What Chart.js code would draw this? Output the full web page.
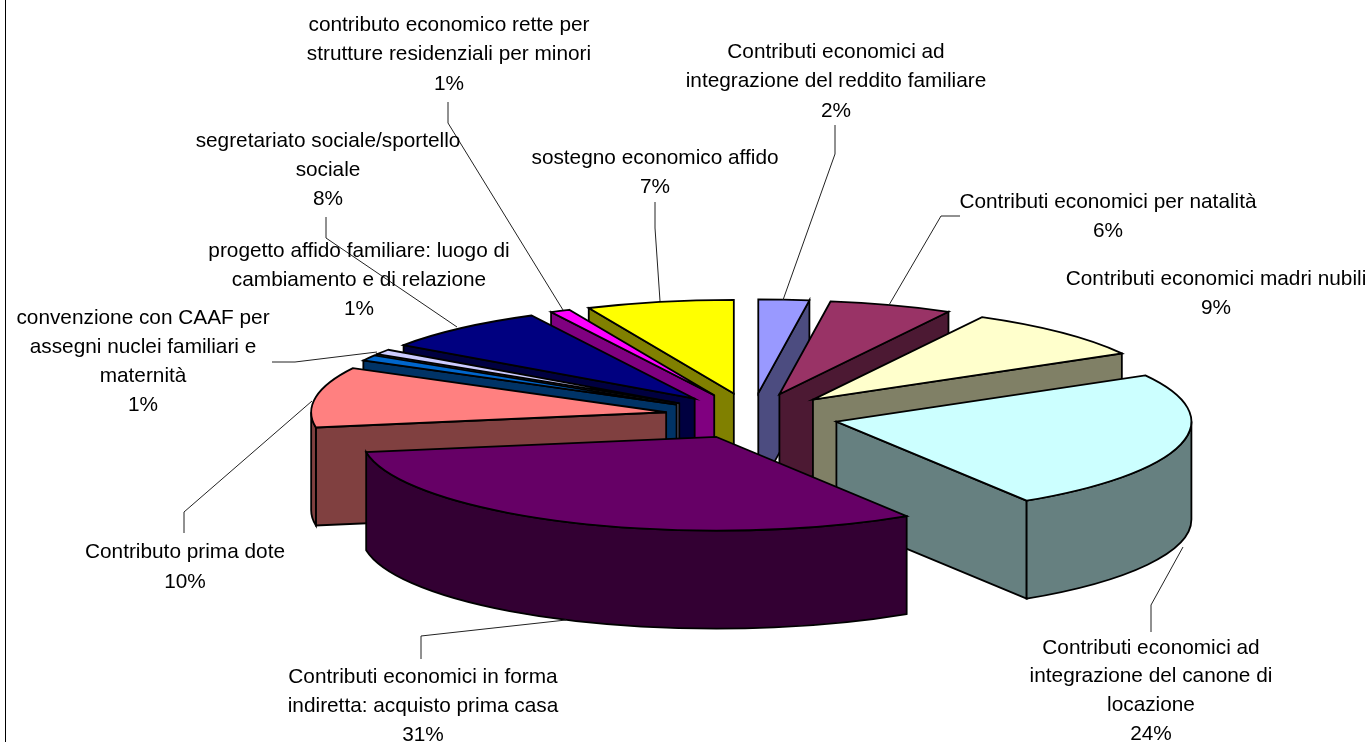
<!DOCTYPE html>
<html lang="it">
<head>
<meta charset="utf-8">
<title>Contributi economici</title>
<script src="https://cdn.jsdelivr.net/npm/chart.js@4/dist/chart.umd.js"></script>
<style>
html,body{margin:0;padding:0;background:#fff;overflow:hidden}
#wrap{position:relative;width:1367px;height:742px}
</style>
</head>
<body>
<div id="wrap"><canvas id="c"></canvas></div>
<script>
const categories = [
  ["Contributi economici ad", "integrazione del reddito familiare"],
  ["Contributi economici per natalità"],
  ["Contributi economici madri nubili"],
  ["Contributi economici ad", "integrazione del canone di", "locazione"],
  ["Contributi economici in forma", "indiretta: acquisto prima casa"],
  ["Contributo prima dote"],
  ["convenzione con CAAF per", "assegni nuclei familiari e", "maternità"],
  ["progetto affido familiare: luogo di", "cambiamento e di relazione"],
  ["segretariato sociale/sportello", "sociale"],
  ["contributo economico rette per", "strutture residenziali per minori"],
  ["sostegno economico affido"]
];
const values = [2.3, 5.6, 8.9, 24.2, 31.4, 10.4, 1.0, 0.9, 7.7, 0.9, 6.7];
const topColors = ["#9999FF","#993366","#FFFFCC","#CCFFFF","#660066","#FF8080","#0066CC","#CCCCFF","#000080","#FF00FF","#FFFF00"];
const sideColors = ["#4C4C80","#4C1933","#808066","#668080","#330033","#804040","#003366","#666680","#000040","#800080","#808000"];

// label layout: centre x, first line y, line step
const labelPos = [
  [836,52,29.5],[1108,202,29],[1216,279,29],[1151,648,28.7],[423,677,29],
  [185,552,30],[143,318,29],[359,251,29],[328,141,29],[449,25,29.5],[655,158,29]
];
const leaders = [
  [[835,125],[835,154],[783,300]],
  [[960,216],[941,216],[889,305]],
  null,
  [[1151,632],[1151,605],[1183,547]],
  [[421,659],[421,636],[566,620]],
  [[184,533],[184,512],[312,401]],
  [[272,362],[295,362],[377,352]],
  null,
  [[326,217],[326,238],[457,327]],
  [[448,102],[448,123],[563,310]],
  [[655,202],[655,228],[660,301]]
];

const CX = 752, CY = 416, RX = 355, K = 0.264, EXPLODE = 87, DEPTH = 98;
const FONT = '20.8px "Liberation Sans", Arial, sans-serif';

const pie3d = {
  id: 'pie3d',
  beforeDatasetsDraw(chart) {
    const ctx = chart.ctx;
    const arcs = chart.getDatasetMeta(0).data;
    const items = arcs.map((arc, i) => {
      const mid = (arc.startAngle + arc.endAngle) / 2;
      return {arc, i, mid,
        ax: arc.x + EXPLODE * Math.cos(mid),
        ay: CY + K * EXPLODE * Math.sin(mid)};
    }).sort((a, b) => a.ay - b.ay);

    ctx.save();
    ctx.lineWidth = 1.8;
    ctx.lineJoin = 'miter';
    ctx.strokeStyle = '#000';
    for (const it of items) {
      const {arc, i, ax, ay} = it;
      const r = arc.outerRadius, ry = r * K;
      const s = arc.startAngle, e = arc.endAngle;
      const px = a => ax + r * Math.cos(a);
      const py = a => ay + ry * Math.sin(a);
      ctx.fillStyle = sideColors[i];
      const quad = a => {
        ctx.beginPath();
        ctx.moveTo(ax, ay);
        ctx.lineTo(px(a), py(a));
        ctx.lineTo(px(a), py(a) + DEPTH);
        ctx.lineTo(ax, ay + DEPTH);
        ctx.closePath();
        ctx.fill(); ctx.stroke();
      };
      if (Math.cos(s) < 0) quad(s);
      if (Math.cos(e) > 0) quad(e);
      const a1 = Math.max(s, 0), a2 = Math.min(e, Math.PI);
      if (a1 < a2) {
        ctx.beginPath();
        ctx.ellipse(ax, ay, r, ry, 0, a1, a2);
        ctx.ellipse(ax, ay + DEPTH, r, ry, 0, a2, a1, true);
        ctx.closePath();
        ctx.fill(); ctx.stroke();
      }
      // top face: the library's own arc, squashed and moved out
      ctx.save();
      ctx.translate(ax - arc.x, ay);
      ctx.scale(1, K);
      ctx.translate(0, -arc.y);
      arc.draw(ctx);
      ctx.restore();
      ctx.beginPath();
      ctx.moveTo(ax, ay);
      ctx.ellipse(ax, ay, r, ry, 0, s, e);
      ctx.closePath();
      ctx.stroke();
    }
    ctx.restore();

    // leaders
    ctx.save();
    ctx.strokeStyle = '#222';
    ctx.lineWidth = 1;
    leaders.forEach(l => {
      if (!l) return;
      ctx.beginPath();
      l.forEach((p, j) => j ? ctx.lineTo(p[0], p[1]) : ctx.moveTo(p[0], p[1]));
      ctx.stroke();
    });
    // frame line
    ctx.strokeStyle = '#000';
    ctx.beginPath();
    ctx.moveTo(5.5, 0);
    ctx.lineTo(5.5, 742);
    ctx.stroke();
    // labels
    ctx.fillStyle = '#000';
    ctx.font = FONT;
    ctx.textAlign = 'center';
    ctx.textBaseline = 'middle';
    const total = values.reduce((a, b) => a + b, 0);
    categories.forEach((lines, i) => {
      const [x, y, step] = labelPos[i];
      lines.forEach((t, j) => ctx.fillText(t, x, y + j * step));
      ctx.fillText(Math.round(values[i] / total * 100) + '%', x, y + lines.length * step);
    });
    ctx.restore();
    return false;
  }
};

new Chart(document.getElementById('c'), {
  type: 'pie',
  data: {
    labels: categories,
    datasets: [{data: values, backgroundColor: topColors, borderWidth: 0}]
  },
  options: {
    responsive: true,
    maintainAspectRatio: false,
    animation: false,
    radius: RX,
    layout: {padding: {left: 2 * CX - 1367, top: 2 * CY - 742}},
    plugins: {legend: {display: false}, tooltip: {enabled: false}}
  },
  plugins: [pie3d]
});
</script>
</body>
</html>
